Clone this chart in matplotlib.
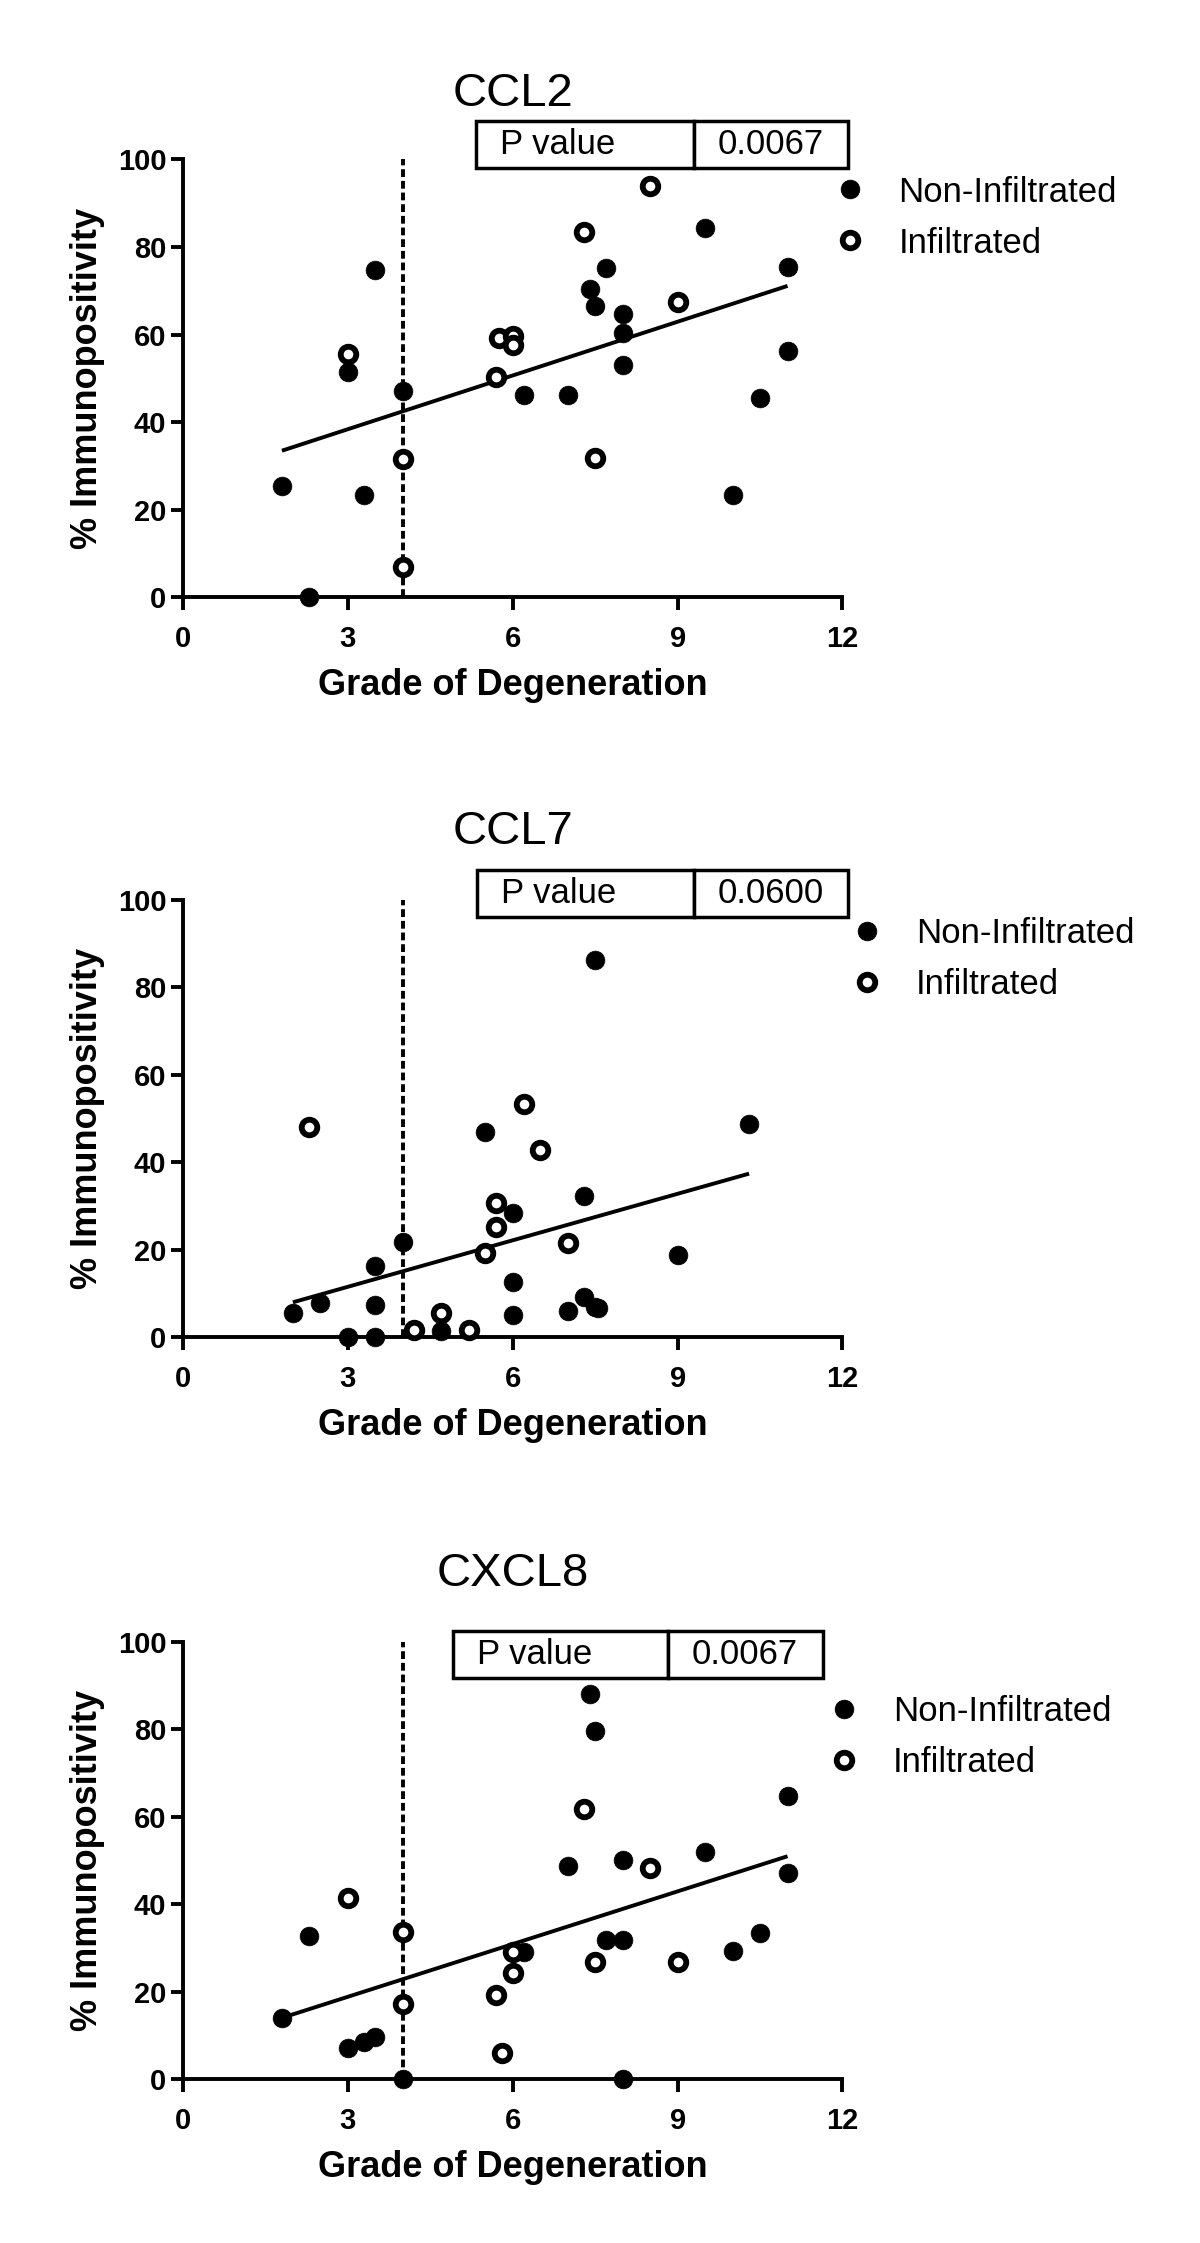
import matplotlib
matplotlib.use("Agg")
import matplotlib.pyplot as plt
from matplotlib.patches import Rectangle
import numpy as np

plt.rcParams['font.family'] = ['Liberation Sans', 'DejaVu Sans']

# ---------------- data ----------------
titles = ["CCL2", "CCL7", "CXCL8"]
p_values = ["0.0067", "0.0600", "0.0067"]
x_label = "Grade of Degeneration"
y_label = "% Immunopositivity"
legend_labels = ["Non-Infiltrated", "Infiltrated"]
x_ticks = [0, 3, 6, 9, 12]
y_ticks = [0, 20, 40, 60, 80, 100]
cutoff_grade = 4

# CCL2
ccl2_non_x = [1.8, 2.3, 3.0, 3.3, 3.5, 4.0, 6.2, 7.0, 7.4, 7.5, 7.7, 8.0, 8.0, 8.0, 9.5, 10.0, 10.5, 11.0, 11.0]
ccl2_non_y = [25.3, 0.0, 51.5, 23.4, 74.8, 47.0, 46.2, 46.2, 70.5, 66.4, 75.1, 64.7, 60.3, 53.0, 84.4, 23.4, 45.4, 75.5, 56.2]
ccl2_inf_x = [3.0, 4.0, 4.0, 5.7, 5.75, 6.0, 6.0, 7.3, 7.5, 8.5, 9.0]
ccl2_inf_y = [55.5, 31.6, 7.0, 50.4, 59.2, 59.6, 57.6, 83.5, 31.7, 93.8, 67.5]

# CCL7
ccl7_non_x = [2.0, 2.5, 3.0, 3.5, 3.5, 3.5, 4.0, 4.7, 5.5, 6.0, 6.0, 6.0, 7.0, 7.3, 7.3, 7.5, 7.55, 7.5, 9.0, 10.3]
ccl7_non_y = [5.6, 7.9, 0.0, 16.3, 7.5, 0.0, 21.9, 1.4, 47.0, 28.4, 12.7, 5.1, 5.9, 32.2, 9.3, 7.0, 6.6, 86.3, 18.8, 48.7]
ccl7_inf_x = [2.3, 4.2, 4.7, 5.2, 5.5, 5.7, 5.7, 6.2, 6.5, 7.0]
ccl7_inf_y = [48.0, 1.7, 5.5, 1.7, 19.2, 25.3, 30.6, 53.3, 42.8, 21.5]

# CXCL8
cxcl8_non_x = [1.8, 2.3, 3.0, 3.3, 3.5, 4.0, 6.2, 7.0, 7.4, 7.5, 7.7, 8.0, 8.0, 8.0, 9.5, 10.0, 10.5, 11.0, 11.0]
cxcl8_non_y = [13.9, 32.7, 7.0, 8.5, 9.7, 0.0, 29.1, 48.7, 88.0, 79.6, 31.9, 31.9, 50.1, 0.0, 51.8, 29.3, 33.3, 64.7, 47.2]
cxcl8_inf_x = [3.0, 4.0, 4.0, 5.7, 5.8, 6.0, 6.0, 7.3, 7.5, 8.5, 9.0]
cxcl8_inf_y = [41.5, 33.7, 17.1, 19.2, 6.0, 29.1, 24.3, 61.7, 26.8, 48.3, 26.8]

panels = [
    (ccl2_non_x, ccl2_non_y, ccl2_inf_x, ccl2_inf_y),
    (ccl7_non_x, ccl7_non_y, ccl7_inf_x, ccl7_inf_y),
    (cxcl8_non_x, cxcl8_non_y, cxcl8_inf_x, cxcl8_inf_y),
]

# ---------------- layout ----------------
W, H = 1200, 2243
fig = plt.figure(figsize=(W / 100, H / 100), dpi=100)

ax_left_px, ax_right_px = 183, 842.5
axes_px = [(159.3, 597.3), (900.0, 1337.3), (1641.7, 2079.0)]  # (top, bottom) in px
box_pos = [  # x_left, x_div, x_right, y_bottom, y_top (axes fraction)
    (0.4443, 0.7748, 1.0083, 0.980, 1.0874),
    (0.4460, 0.7743, 1.0080, 0.960, 1.0686),
    (0.4093, 0.7347, 0.9697, 0.917, 1.0250),
]
legend_anchor = [(0.985, 0.867), (1.011, 0.865), (0.976, 0.781)]
title_y = [1.121, 1.128, 1.128]

spine_lw = 2.8
for i, (nx, ny, ix, iy) in enumerate(panels):
    top, bot = axes_px[i]
    ax = fig.add_axes([ax_left_px / W, 1 - bot / H,
                       (ax_right_px - ax_left_px) / W, (bot - top) / H])
    ax.set_xlim(0, 12)
    ax.set_ylim(0, 100)
    for s in ['top', 'right']:
        ax.spines[s].set_visible(False)
    for s in ['left', 'bottom']:
        ax.spines[s].set_linewidth(spine_lw)
    ax.set_xticks(x_ticks)
    ax.set_yticks(y_ticks)
    ax.tick_params(axis='both', direction='out', length=9, width=spine_lw,
                   labelsize=21)
    ax.tick_params(axis='x', pad=11)
    ax.tick_params(axis='y', pad=3)
    for lab in ax.get_xticklabels() + ax.get_yticklabels():
        lab.set_fontweight('bold')
    ax.set_xlabel(x_label, fontsize=26, fontweight='bold', labelpad=11)
    ax.set_ylabel(y_label, fontsize=26, fontweight='bold', labelpad=9)

    # dashed cutoff line
    ax.plot([cutoff_grade, cutoff_grade], [0, 100], color='black', lw=2.8,
            linestyle=(0, (2.0, 1.0)), zorder=2, clip_on=False)

    # regression line over all points
    allx = np.array(nx + ix, dtype=float)
    ally = np.array(ny + iy, dtype=float)
    slope, icpt = np.polyfit(allx, ally, 1)
    xs = np.array([allx.min(), allx.max()])
    ax.plot(xs, slope * xs + icpt, color='black', lw=2.8, zorder=3,
            solid_capstyle='butt')

    h1, = ax.plot(nx, ny, linestyle='none', marker='o', ms=13.5,
                  mfc='black', mec='black', mew=0.5, zorder=4, clip_on=False)
    h2, = ax.plot(ix, iy, linestyle='none', marker='o', ms=11.2,
                  mfc='white', mec='black', mew=4.2, zorder=5, clip_on=False)

    ax.legend([h1, h2], legend_labels, loc='center left',
              bbox_to_anchor=legend_anchor[i], frameon=False, fontsize=25,
              handlelength=1.0, handletextpad=0.9, labelspacing=0.52,
              borderpad=0, borderaxespad=0, markerscale=1.0)

    # title
    ax.text(0.5, title_y[i], titles[i], transform=ax.transAxes, fontsize=34,
            ha='center', va='baseline')

    # P value box
    xl, xd, xr, yb, yt = box_pos[i]
    for (a, b) in [(xl, xd), (xd, xr)]:
        ax.add_patch(Rectangle((a, yb), b - a, yt - yb, transform=ax.transAxes,
                               fill=True, facecolor='white', edgecolor='black',
                               lw=2.5, clip_on=False, zorder=6))
    ym = (yb + yt) / 2
    ax.text(xl + 0.036, ym, "P value", transform=ax.transAxes, fontsize=25,
            ha='left', va='center', zorder=7)
    ax.text((xd + xr) / 2, ym, p_values[i], transform=ax.transAxes,
            fontsize=25, ha='center', va='center', zorder=7)

fig.savefig("out.png", dpi=100)
